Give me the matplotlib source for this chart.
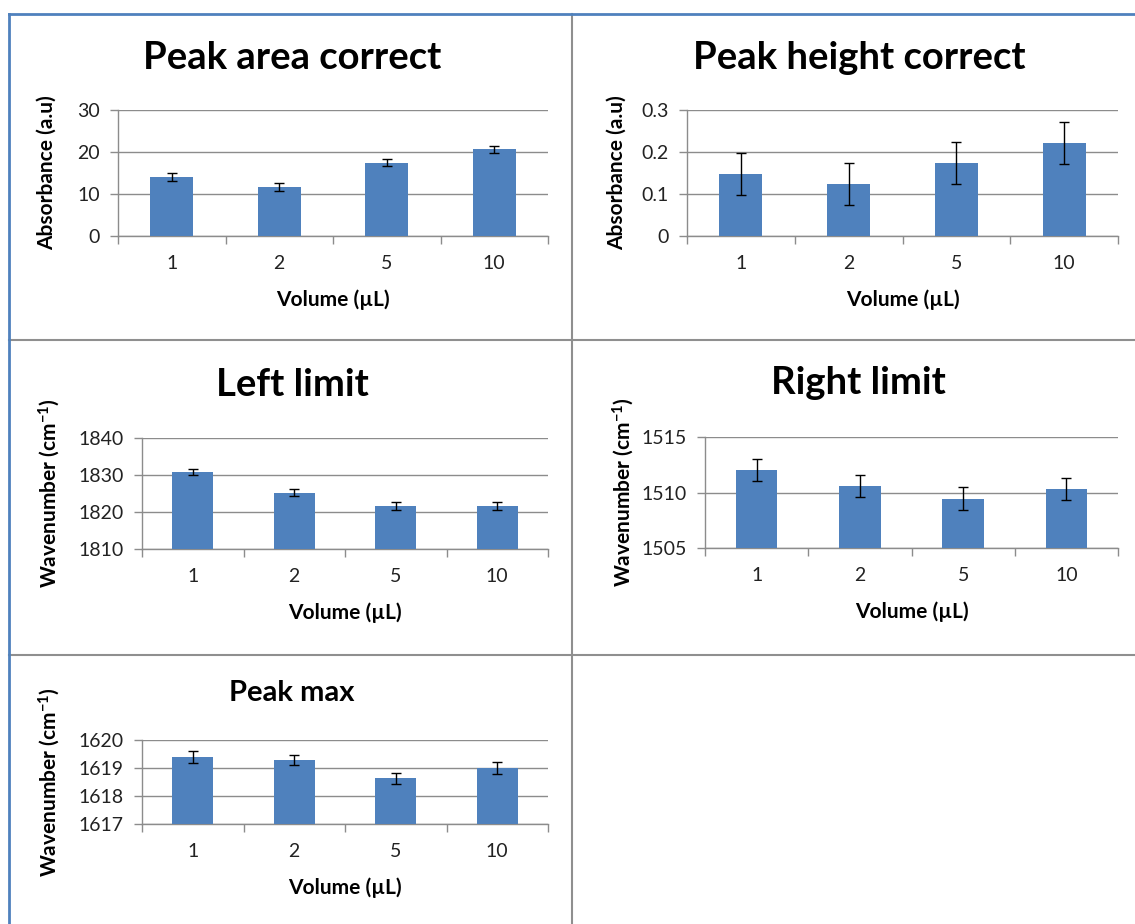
import matplotlib.pyplot as plt
from matplotlib.lines import Line2D
import numpy as np

plt.rcParams['font.family'] = ['Lato', 'DejaVu Sans']
plt.rcParams['mathtext.default'] = 'regular'

volumes = ['1', '2', '5', '10']

area_mean = [14.1, 11.7, 17.5, 20.6]
area_err = [1.0, 1.0, 0.9, 0.9]

height_mean = [0.147, 0.125, 0.175, 0.222]
height_err = [0.05, 0.05, 0.05, 0.05]

left_mean = [1830.9, 1825.2, 1821.6, 1821.6]
left_err = [0.8, 1.0, 1.1, 1.0]

right_mean = [1512.0, 1510.55, 1509.45, 1510.35]
right_err = [1.0, 1.0, 1.05, 1.0]

pmax_mean = [1619.38, 1619.29, 1618.63, 1618.99]
pmax_err = [0.21, 0.19, 0.2, 0.21]

W, H = 1135, 924
fig = plt.figure(figsize=(W / 100, H / 100), dpi=100)

bar_col = '#4F81BD'
grid_col = '#8C8C8C'


def bar_panel(box, mean, err, ylim, step, title, title_xy, tsize, ylabel, ylab_x, tfmt):
    x0, x1, ytop, ybot = box
    ax = fig.add_axes([x0 / W, 1 - ybot / H, (x1 - x0) / W, (ybot - ytop) / H])
    x = np.arange(len(volumes))
    ax.bar(x, np.array(mean) - ylim[0], bottom=ylim[0], width=0.4, color=bar_col, zorder=3)
    ax.errorbar(x, mean, yerr=err, fmt='none', ecolor='black', elinewidth=1,
                capsize=3.5, capthick=1, zorder=4)
    ax.set_xlim(-0.5, len(volumes) - 0.5)
    ax.set_ylim(*ylim)
    ticks = np.arange(ylim[0], ylim[1] + step / 2, step)
    ax.set_yticks(ticks)
    ax.set_yticklabels([tfmt(t) for t in ticks])
    ax.yaxis.grid(True, color=grid_col, linewidth=1, zorder=0)
    ax.set_xticks(x)
    ax.set_xticklabels(volumes)
    ax.set_xticks(np.arange(-0.5, len(volumes)), minor=True)
    ax.tick_params(axis='x', which='major', length=0, pad=14, labelsize=14, colors='#222222')
    ax.tick_params(axis='x', which='minor', length=6, color=grid_col, width=1)
    ax.tick_params(axis='y', length=6, color=grid_col, width=1, labelsize=14, pad=7,
                   labelcolor='#222222')
    for s in ['top', 'right']:
        ax.spines[s].set_visible(False)
    for s in ['left', 'bottom']:
        ax.spines[s].set_color(grid_col)
        ax.spines[s].set_linewidth(1)
    h = ybot - ytop
    ax.set_xlabel('Volume (µL)', fontsize=15, fontweight='bold', va='center')
    ax.xaxis.set_label_coords(0.5, -64 / h)
    ax.set_ylabel(ylabel, fontsize=15, fontweight='bold', va='center')
    ax.yaxis.set_label_coords((ylab_x - x0) / (x1 - x0), 0.5)
    fig.text(title_xy[0] / W, 1 - title_xy[1] / H, title, fontsize=tsize,
             fontweight='bold', ha='center', va='center')
    return ax


int_fmt = lambda t: '%d' % round(t)
dec_fmt = lambda t: '0' if abs(t) < 1e-9 else '%.1f' % t

bar_panel((118, 548, 110, 236), area_mean, area_err, (0, 30), 10,
          'Peak area correct', (292, 58), 27.5, 'Absorbance (a.u)', 47, int_fmt)

bar_panel((687, 1118, 110, 236), height_mean, height_err, (0, 0.3), 0.1,
          'Peak height correct', (859, 58), 27.5, 'Absorbance (a.u)', 617, dec_fmt)

bar_panel((142, 548, 438, 549), left_mean, left_err, (1810, 1840), 10,
          'Left limit', (292, 385), 27.5, 'Wavenumber (cm$^{-1}$)', 49, int_fmt)

bar_panel((705, 1118, 437, 548), right_mean, right_err, (1505, 1515), 5,
          'Right limit', (858, 383), 27.5, 'Wavenumber (cm$^{-1}$)', 623, int_fmt)

bar_panel((142, 548, 740, 824), pmax_mean, pmax_err, (1617, 1620), 1,
          'Peak max', (292, 693), 21, 'Wavenumber (cm$^{-1}$)', 49, int_fmt)


# panel frames
def fline(xs, ys, color, lw):
    fig.add_artist(Line2D([x / W for x in xs], [1 - y / H for y in ys],
                          color=color, linewidth=lw, transform=fig.transFigure))


frame_col = '#8F8F8F'
fline([572, 572], [14, 924], frame_col, 1.5)
fline([9, 1135], [340, 340], frame_col, 1.5)
fline([9, 1135], [655, 655], frame_col, 1.5)
fline([9, 1135], [14, 14], '#4F81BD', 2)
fline([9, 9], [14, 924], '#4F81BD', 2)

fig.savefig('out.png', dpi=100)
